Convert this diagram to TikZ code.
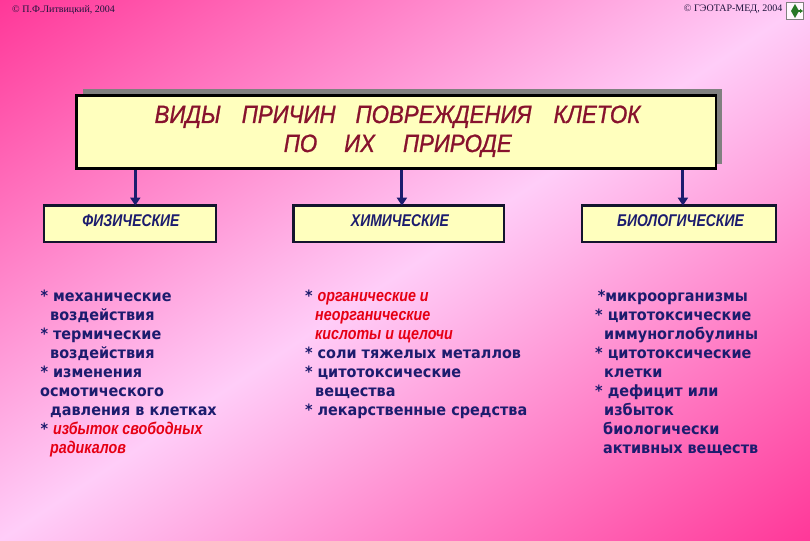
\documentclass[tikz,border=0pt]{standalone}
\usepackage{fontspec}
\usetikzlibrary{arrows.meta}
\setmainfont{Liberation Serif}
\newfontfamily\hdfont[FakeStretch=0.89,FakeBold=1]{Liberation Sans}
\newfontfamily\subfont[FakeStretch=0.82]{Liberation Sans}
\newfontfamily\redfont[FakeStretch=0.84]{Liberation Sans}
\newfontfamily\bodyfont[FakeStretch=0.93]{DejaVu Sans}
\newfontfamily\smallfont{Liberation Serif}
\definecolor{hot}{RGB}{255,55,152}
\definecolor{lite}{RGB}{255,205,248}
\definecolor{paleyel}{RGB}{255,255,190}
\definecolor{navy}{RGB}{28,28,110}
\definecolor{boxline}{RGB}{20,20,45}
\definecolor{maroon}{RGB}{135,18,45}
\definecolor{redtxt}{RGB}{230,0,20}
\definecolor{shadowgray}{RGB}{128,128,128}
\definecolor{smalltxt}{RGB}{30,20,60}
\definecolor{icongreen}{RGB}{40,120,40}
\pgfdeclarehorizontalshading{bgshade}{1000bp}{color(0bp)=(hot); color(449bp)=(lite); color(898bp)=(hot)}
\newcommand\redtx[1]{{\redfont\bfseries\itshape\fontsize{17}{19}\selectfont\color{redtxt}#1}}
\begin{document}
\begin{tikzpicture}[x=1pt,y=-1pt,
  titlebox/.style={draw=black, line width=2.5pt, fill=paleyel, inner sep=0pt},
  hd/.style={inner sep=0pt, text=maroon, font=\hdfont\itshape\fontsize{25}{29}\selectfont},
  subbox/.style={draw=boxline, line width=2.5pt, fill=paleyel, inner sep=0pt, minimum height=36.4pt},
  sublabel/.style={inner sep=0pt, text=navy, font=\subfont\bfseries\itshape\fontsize{17}{20}\selectfont},
  arr/.style={draw=navy, line width=3pt, -{Triangle[length=8pt,width=10pt]}},
  body/.style={anchor=base west, inner sep=0pt, text=navy, font=\bodyfont\bfseries\fontsize{15.5}{18}\selectfont},
  small/.style={inner sep=0pt, text=smalltxt, font=\smallfont\fontsize{10}{12}\selectfont}]
\useasboundingbox (0,0) rectangle (810,540);
\begin{scope}
\clip (0,0) rectangle (810,540);
\node[inner sep=0pt, rotate=-56.31] (bg) at (405,270) {\pgfuseshading{bgshade}};
\end{scope}
% corner texts
\node[small, anchor=west] (cr1) at (12,9.6) {© П.Ф.Литвицкий, 2004};
\node[small, anchor=east] (cr2) at (782.5,9.6) {© ГЭОТАР-МЕД, 2004};
\node[draw=shadowgray, line width=0.6pt, fill=white!85!lite, minimum size=17pt, inner sep=0pt] (icon) at (795,11) {};
\fill[icongreen] (795,4) -- (799,11) -- (795,18) -- (791,11) -- cycle;
\draw[icongreen, line width=1.2pt, -{Triangle[length=3pt,width=4pt]}] (795,11) -- (803,11);
% title
\fill[shadowgray] (82.6,88.8) rectangle (722,163.6);
\node[titlebox, minimum width=639.5pt, minimum height=73pt] (title) at (396.25,132.2) {};
\node[hd, anchor=base] (t1) at (397.5,123) {ВИДЫ\hspace{21pt}ПРИЧИН\hspace{20pt}ПОВРЕЖДЕНИЯ\hspace{22pt}КЛЕТОК};
\node[hd, anchor=base] (t2) at (397.75,152) {ПО\hspace{27pt}ИХ\hspace{28pt}ПРИРОДЕ};
% sub boxes
\node[subbox, minimum width=172pt] (phys) at (130,223.8) {};
\node[subbox, minimum width=210.6pt] (chem) at (398.7,223.8) {};
\node[subbox, minimum width=194pt] (bio) at (679,223.8) {};
\node[sublabel] (physl) at (131,221) {ФИЗИЧЕСКИЕ};
\node[sublabel] (cheml) at (400,221) {ХИМИЧЕСКИЕ};
\node[sublabel] (biol) at (680.5,221) {БИОЛОГИЧЕСКИЕ};
% arrows
\coordinate (a1) at (135.3,205.6);
\coordinate (a2) at (401.9,205.6);
\coordinate (a3) at (682.9,205.6);
\draw[arr] (title.south -| a1) -- (a1);
\draw[arr] (title.south -| a2) -- (a2);
\draw[arr] (title.south -| a3) -- (a3);
% column 1
\node[body] (p1) at (40.3,301.3) {* механические};
\node[body] (p2) at (50,320.4) {воздействия};
\node[body] (p3) at (40.3,339.4) {* термические};
\node[body] (p4) at (50,358.5) {воздействия};
\node[body] (p5) at (40.3,377.6) {* изменения};
\node[body] (p6) at (40,396.7) {осмотического};
\node[body] (p7) at (50,415.7) {давления в клетках};
\node[body] (p8) at (40.3,434.8) {* \redtx{избыток свободных}};
\node[body] (p9) at (50,453.9) {\redtx{радикалов}};
% column 2
\node[body] (c1) at (304.8,301.3) {* \redtx{органические и}};
\node[body] (c2) at (315,320.4) {\redtx{неорганические}};
\node[body] (c3) at (315,339.4) {\redtx{кислоты и щелочи}};
\node[body] (c4) at (304.8,358.5) {* соли тяжелых металлов};
\node[body] (c5) at (304.8,377.6) {* цитотоксические};
\node[body] (c6) at (315,396.7) {вещества};
\node[body] (c7) at (304.8,415.7) {* лекарственные средства};
% column 3
\node[body] (b1) at (597.6,301.3) {*микроорганизмы};
\node[body] (b2) at (595,320.4) {* цитотоксические};
\node[body] (b3) at (604,339.4) {иммуноглобулины};
\node[body] (b4) at (595,358.5) {* цитотоксические};
\node[body] (b5) at (604,377.6) {клетки};
\node[body] (b6) at (595,396.7) {* дефицит или};
\node[body] (b7) at (604,415.7) {избыток};
\node[body] (b8) at (603,434.8) {биологически};
\node[body] (b9) at (603,453.9) {активных веществ};
\end{tikzpicture}
\end{document}
